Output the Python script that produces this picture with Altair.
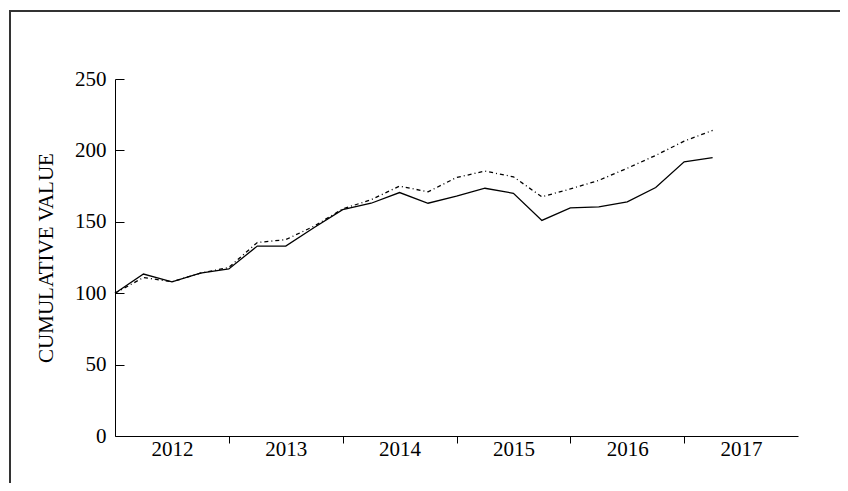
import altair as alt
import pandas as pd

# Quarterly observations (year fractions)
period = [2012.00, 2012.25, 2012.50, 2012.75,
          2013.00, 2013.25, 2013.50, 2013.75,
          2014.00, 2014.25, 2014.50, 2014.75,
          2015.00, 2015.25, 2015.50, 2015.75,
          2016.00, 2016.25, 2016.50, 2016.75,
          2017.00, 2017.25]
solid = [100, 113.4, 108, 114, 117, 133, 133, 146, 158.5, 163, 170.5, 163,
         168, 173.5, 170, 151, 159.7, 160.5, 164, 174, 192, 195]
dashdot = [100, 111, 108, 114, 118, 135.5, 137.5, 147, 159, 165.5, 175, 171,
           181, 185.5, 181.5, 167.5, 173, 179, 187.5, 196.5, 206.5, 214]

year_ticks = [2013, 2014, 2015, 2016, 2017]
year_label_pos = [2012.5, 2013.5, 2014.5, 2015.5, 2016.5, 2017.5]
y_ticks = [0, 50, 100, 150, 200, 250]

df = pd.DataFrame({"period": period, "solid": solid, "dashdot": dashdot})

W, H = 683, 357
FONT = "Liberation Serif"

xscale = alt.Scale(domain=[2012, 2018], nice=False, zero=False)
yscale = alt.Scale(domain=[0, 250], nice=False, zero=True)

base = alt.Chart(df)

solid_line = base.mark_line(color="black", strokeWidth=1.3).encode(
    x=alt.X("period:Q", scale=xscale,
            axis=alt.Axis(orient="bottom", values=year_ticks, labels=False,
                          ticks=True, tickSize=7, domain=True, grid=False,
                          title=None)),
    y=alt.Y("solid:Q", scale=yscale,
            axis=alt.Axis(orient="left", values=y_ticks, ticks=False,
                          domain=True, grid=False, labelPadding=9,
                          title="CUMULATIVE VALUE", titlePadding=18)),
)

dash_line = base.mark_line(color="black", strokeWidth=1.3,
                           strokeDash=[4, 3, 1, 3]).encode(
    x=alt.X("period:Q", scale=xscale,
            axis=alt.Axis(orient="bottom", values=year_label_pos,
                          labelExpr="floor(datum.value)", ticks=False,
                          domain=False, grid=False, labelPadding=2,
                          title=None)),
    y=alt.Y("dashdot:Q", scale=yscale,
            axis=alt.Axis(orient="right", offset=-W, values=y_ticks,
                          labels=False, ticks=True, tickSize=9, domain=False,
                          grid=False, title=None)),
)

frame = alt.Chart(alt.Data(values=[{"f": 1}])).mark_rect(
    filled=False, stroke="#333333", strokeWidth=2
).encode(
    x=alt.value(-105), x2=alt.value(760),
    y=alt.value(-68), y2=alt.value(520),
)

chart = alt.layer(frame, solid_line, dash_line).resolve_axis(
    x="independent", y="independent"
).properties(
    width=W, height=H,
    autosize=alt.AutoSizeParams(type="none"),
    padding={"left": 107, "top": 71, "right": 42, "bottom": 47},
).configure_view(stroke=None).configure_axis(
    labelFont=FONT, titleFont=FONT, labelFontSize=21, titleFontSize=21,
    titleFontWeight="normal", labelColor="black", titleColor="black",
    domainColor="black", tickColor="black", domainWidth=1, tickWidth=1,
)

chart.save("out.html", embed_options={"renderer": "svg", "actions": False})
